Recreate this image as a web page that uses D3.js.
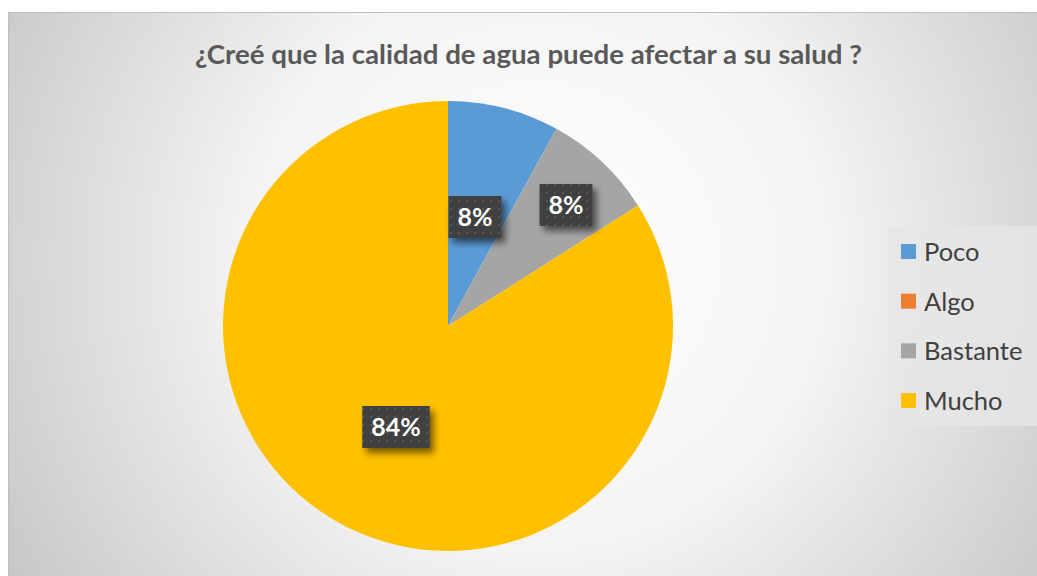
<!DOCTYPE html>
<html><head><meta charset="utf-8">
<script src="https://cdn.jsdelivr.net/npm/d3@7"></script>
<style>body{margin:0;background:#fff}svg{display:block}</style>
</head><body>
<svg id="c" width="1037" height="576"></svg>
<script>
const categories = ["Poco", "Algo", "Bastante", "Mucho"];
const values = [8, 0, 8, 84];
const labels = ["8%", "", "8%", "84%"];
const colors = ["#5b9bd5", "#ed7d31", "#a5a5a5", "#ffc000"];
const title = "¿Creé que la calidad de agua puede afectar a su salud ?";

const svg = d3.select("#c");
const defs = svg.append("defs");
const rg = defs.append("radialGradient").attr("id","bg").attr("gradientUnits","userSpaceOnUse")
  .attr("cx",540).attr("cy",260).attr("r",640);
rg.append("stop").attr("offset","0%").attr("stop-color","#ffffff");
rg.append("stop").attr("offset","45%").attr("stop-color","#f4f4f4");
rg.append("stop").attr("offset","100%").attr("stop-color","#c4c4c4");

const pat = defs.append("pattern").attr("id","dots").attr("patternUnits","userSpaceOnUse")
  .attr("width",8).attr("height",8);
pat.append("rect").attr("width",8).attr("height",8).attr("fill","#404040");
pat.append("rect").attr("x",2).attr("y",2).attr("width",2).attr("height",2).attr("fill","#575757");

const f = defs.append("filter").attr("id","sh").attr("x","-30%").attr("y","-30%").attr("width","170%").attr("height","180%");
f.append("feGaussianBlur").attr("in","SourceAlpha").attr("stdDeviation",3.5).attr("result","b");
f.append("feOffset").attr("in","b").attr("dx",4).attr("dy",5).attr("result","o");
f.append("feComponentTransfer").attr("in","o").attr("result","o2").append("feFuncA").attr("type","linear").attr("slope",0.55);
const m = f.append("feMerge"); m.append("feMergeNode").attr("in","o2"); m.append("feMergeNode").attr("in","SourceGraphic");

svg.append("rect").attr("x",8.5).attr("y",12.5).attr("width",1030).attr("height",566)
  .attr("fill","url(#bg)").attr("stroke","#bfbfbf");

svg.append("text").attr("x",195).attr("y",64).attr("text-anchor","start")
  .attr("font-family","Lato, 'Open Sans', sans-serif").attr("font-weight","bold").attr("font-size",26)
  .attr("textLength",667).attr("lengthAdjust","spacingAndGlyphs")
  .attr("fill","#595959").text(title);

const cx = 448, cy = 326, R = 225;
const data = categories.map((c,i)=>({cat:c, v:values[i], lab:labels[i], col:colors[i]}));
const pie = d3.pie().value(d=>d.v).sort(null);
const arc = d3.arc().innerRadius(0).outerRadius(R);
const g = svg.append("g").attr("transform",`translate(${cx},${cy})`);
const arcs = pie(data);
g.selectAll("path").data(arcs).join("path").attr("d",arc).attr("fill",d=>d.data.col);

// labels
const labArc = d3.arc().innerRadius(R*0.52).outerRadius(R*0.52);
const lg = svg.append("g").attr("transform",`translate(${cx},${cy})`);
arcs.filter(a=>a.data.v>0).forEach(a=>{
  let [x,y] = labArc.centroid(a);
  if (a.data.cat==="Poco") { x = 27; y = -109; }
  if (a.data.cat==="Bastante") { x = 118; y = -121; }
  if (a.data.cat==="Mucho") { x = -52; y = 101; }
  const t = lg.append("text").attr("x",x).attr("y",y).attr("text-anchor","middle").attr("dy","0.36em")
    .attr("font-family","Lato, 'Open Sans', sans-serif").attr("font-weight","bold").attr("font-size",25)
    .attr("fill","#ffffff").text(a.data.lab);
  const bb = t.node().getBBox();
  const w = bb.width + 18, h = 42;
  lg.insert("rect","text").attr("x",x-w/2).attr("y",y-h/2).attr("width",w).attr("height",h)
    .attr("fill","url(#dots)").attr("filter","url(#sh)");
});

// legend
const leg = svg.append("g");
leg.append("rect").attr("x",888).attr("y",226).attr("width",149).attr("height",200).attr("fill","#e6e6e6").attr("opacity",0.8);
const ly = d3.scalePoint().domain(categories).range([252,401]);
categories.forEach((c,i)=>{
  leg.append("rect").attr("x",901).attr("y",ly(c)-8).attr("width",15).attr("height",15).attr("fill",colors[i]);
  leg.append("text").attr("x",924).attr("y",ly(c)).attr("dy","0.35em")
    .attr("font-family","Lato, 'Open Sans', sans-serif").attr("font-size",25.5).attr("fill","#404040").text(c);
});
</script>
</body></html>
